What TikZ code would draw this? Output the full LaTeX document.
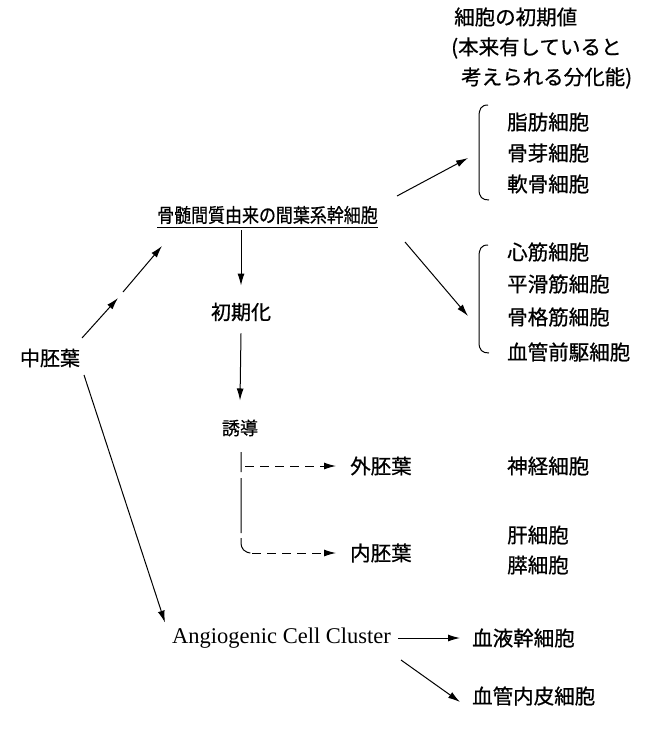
\documentclass[tikz,border=0pt]{standalone}
\usepackage{fontspec}
\setmainfont{Liberation Serif}
\newfontfamily\jp[FakeBold=0.7]{Noto Sans CJK JP}
\usetikzlibrary{arrows.meta}
\begin{document}
\begin{tikzpicture}[x=1pt,y=-1pt,
  jt/.style={font=\jp\fontsize{20.5}{20.5}\selectfont, inner sep=0pt, anchor=west},
  jc/.style={font=\jp\fontsize{20}{20}\selectfont, inner sep=0pt, anchor=center},
  arr/.style={-{Latex[length=12pt,width=7pt]}, line width=1pt},
  dsh/.style={dash pattern=on 9pt off 6pt, line width=1pt},
  brk/.style={line width=1pt}]
\useasboundingbox (0,0) rectangle (646,737);

% header
\node[jt] (hdr1) at (454,17) {細胞の初期値};
\node[jt] (hdr2) at (451,48) {(本来有していると};
\node[jt] (hdr3) at (461,78) {考えられる分化能)};

% group 1
\draw[brk] (488,105) .. controls (481,105) and (479,109) .. (479,117) -- (479,189) .. controls (479,197) and (482,200) .. (489,200);
\node[jt] (fat) at (507,122) {脂肪細胞};
\node[jt] (ost) at (507,153) {骨芽細胞};
\node[jt] (cho) at (507,184) {軟骨細胞};

% group 2
\draw[brk] (488,245) .. controls (481,245) and (479,249) .. (479,257) -- (479,342) .. controls (479,350) and (482,353) .. (489,353);
\node[jt] (car) at (507,252) {心筋細胞};
\node[jt] (smo) at (507,284) {平滑筋細胞};
\node[jt] (ske) at (507,317) {骨格筋細胞};
\node[jt] (vas) at (507,352) {血管前駆細胞};

% title
\node[font=\jp\fontsize{19.5}{19.5}\selectfont, inner sep=0pt, anchor=west] (msc) at (157,215) {\scalebox{0.87}[1]{骨髄間質由来の間葉系幹細胞}};
\draw[line width=1pt] ([yshift=-3pt]msc.south west) -- ([yshift=-3pt]msc.south east);

\coordinate (g1tip) at (468,158);
\coordinate (g1from) at (397,196);
\coordinate (g2tip) at (468,316);
\coordinate (g2from) at (405,242);
\draw[arr] (g1from) -- (g1tip);
\draw[arr] (g2from) -- (g2tip);

% vertical chain
\node[jc] (shoki) at (241,312) {初期化};
\node[font=\jp\fontsize{18}{18}\selectfont, inner sep=0pt] (yudo) at (240,428) {誘導};
\coordinate (vtop) at (241,230);
\draw[arr] (vtop) -- ([yshift=17pt]shoki.north);
\draw[arr] ([yshift=-12pt]shoki.south) -- ([yshift=19pt]yudo.north);

% dashed branches
\node[jt] (ecto) at (350,466) {外胚葉};
\node[jt] (endo) at (350,553) {内胚葉};
\coordinate (dtop) at (241,452);
\coordinate (dmid) at (241,466);
\draw[line width=1pt, dash pattern=on 20pt off 6pt on 55pt off 5pt] (dtop) -- (241,543) .. controls (241,548) and (244,553) .. (252,553);
\draw[dsh, -{Latex[length=12pt,width=7pt]}] (252,553) -- ([xshift=-14pt]endo.west);
\draw[dsh, -{Latex[length=12pt,width=7pt]}] ([xshift=4pt]dmid) -- ([xshift=-14pt]ecto.west);

\node[jt] (neur) at (507,466) {神経細胞};
\node[jt] (liv) at (507,535) {肝細胞};
\node[jt] (pan) at (507,565) {膵細胞};

% mesoderm
\node[jc] (meso) at (50,358) {中胚葉};
\coordinate (m1a) at (82,338);
\coordinate (m1b) at (118,298);
\coordinate (m2a) at (123,292);
\coordinate (m2b) at (162,246);
\draw[arr] (m1a) -- (m1b);
\draw[arr] (m2a) -- (m2b);

% angiogenic
\node[font=\fontsize{22.5}{22.5}\selectfont, inner sep=0pt, anchor=west] (acc) at (172,638) {Angiogenic Cell Cluster};
\coordinate (lstart) at (84,375);
\draw[arr] (lstart) -- ([xshift=-7pt,yshift=5pt]acc.north west);
\node[jt] (hsc) at (472,638) {血液幹細胞};
\node[jt] (endc) at (472,696) {血管内皮細胞};
\draw[arr] ([xshift=7pt]acc.east) -- ([xshift=-12pt]hsc.west);
\coordinate (ea) at (401,660);
\draw[arr] (ea) -- ([xshift=-12pt,yshift=-6pt]endc.west);
\end{tikzpicture}
\end{document}
